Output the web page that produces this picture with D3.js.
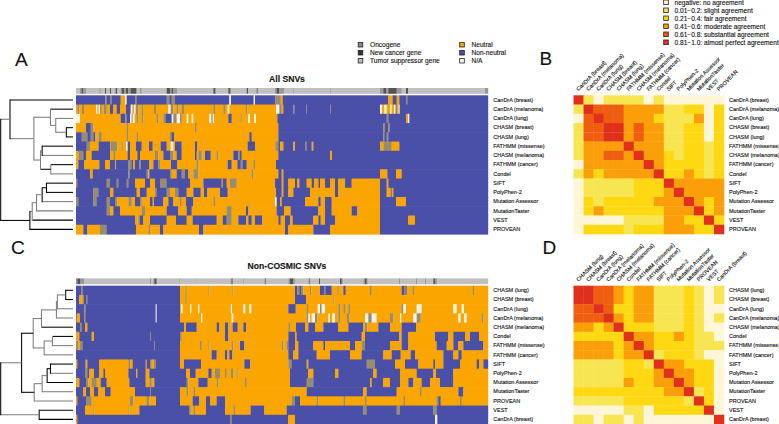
<!DOCTYPE html>
<html>
<head>
<meta charset="utf-8">
<script src="https://cdnjs.cloudflare.com/ajax/libs/d3/7.8.5/d3.min.js"></script>
<style>
body{margin:0;background:#fff}
text{font-family:"Liberation Sans",Arial,sans-serif;fill:#111;stroke:#111;stroke-width:.12px}
.domain{display:none}
</style>
</head>
<body>
<script>
// row order of each heatmap
var rowsA=["CanDrA (breast)","CanDrA (melanoma)","CanDrA (lung)","CHASM (breast)","CHASM (lung)","FATHMM (missense)","CHASM (melanoma)","FATHMM (cancer)","Condel","SIFT","PolyPhen-2","Mutation Assessor","MutationTaster","VEST","PROVEAN"];
var rowsC=["CHASM (lung)","CHASM (breast)","CanDrA (lung)","CanDrA (melanoma)","CHASM (melanoma)","Condel","FATHMM (missense)","FATHMM (cancer)","SIFT","PolyPhen-2","Mutation Assessor","MutationTaster","PROVEAN","VEST","CanDrA (breast)"];

// calls per row, as runs: letter = call, number = first column of the run
// b non-neutral, o neutral, w N/A, g mixed stripe
var callsA=[
"b228 g316 b320 g330 b335 o362 w375 b380 g405 b410 g500 b508 g515 b525 w688 b693 w761 b765 g826 o842 b848 o1165 b1178 o1190 b1198 g1218 b1222",
"o228 g232 o238 g246 o252 w288 o292 w296 g300 o305 g312 o320 b330 o340 b350 o360 b378 w392 o397 w402 g407 o415 g425 o430 g462 o468 w505 g512 o520 g530 o535 g545 o552 g640 o645 g670 o675 w683 o688 g737 o742 w828 g838 o845 b850 g880 b883 g918 b921 g990 b993 w1140 o1146 w1153 o1160 w1170 o1175 w1182 b1187 o1190 w1196 b1199",
"w228 o240 b362 g376 b380 w390 g395 w398 o404 g410 o415 g425 o430 g470 o475 g490 b497 b510 w515 g520 w530 g540 o545 w560 o565 w575 o580 w628 g634 w638 o642 b685 o695 g722 o725 w745 o750 w762 o768 b832 g1160 b1165 o1218 w1224 b1228",
"o228 b258 g272 o280 g380 o384 g585 o590 b835 g1150 b1155 g1165 b1170",
"b228 g245 b262 g272 b280 o286 g296 o305 g380 o384 g410 o414 g510 b515 o522 b748 o755 b835 g1150 b1153 g1160 b1165",
"b228 g260 o270 b296 o330 g332 o352 g365 o368 w378 b383 o390 b408 o425 b447 o458 b482 o500 w512 o520 b525 o545 b585 o592 b743 o765 g826 b835 o840 b850 o880 b885 g915 b920 o935 b940 o1140 g1150 o1175 b1198",
"o228 g235 b250 o258 b275 o330 g340 o345 b383 o390 b412 o420 g465 o475 b490 g510 o520 b530 o545 b585 o590 g595 o605 b615 o632 g650 o655 b700 g715 b720 o725 b835 o990 b996",
"o228 b235 o253 b298 o315 b330 o345 b348 g385 b395 o400 b405 g418 b423 o448 b460 g475 o480 b513 o532 g590 o595 b683 o695 b712 g722 b728 o740 g760 o765 b828",
"b228 o270 b278 g385 b390 g440 o445 b448 g510 o515 b530 g545 b555 o565 g580 o595 g755 o760 b835 o845 b850 o1140 b1162 o1188 b1205",
"g228 b232 g320 b330 g350 b355 g380 b385 o405 b435 o450 b465 g480 b500 o570 b610 o665 b668 o680 g690 o710 b825 o845 b850 o865 b885 o892 b898 o920 b935 o942 b955 o960 b975 o990 b1005 o1015 b1035 o1055 b1140 o1160 b1165",
"b228 g280 b295 o330 b340 o410 b420 o440 g465 b470 g500 o510 g525 b535 o560 b580 o602 b612 o622 b660 o683 b828 o845 b850 o865 b880 o930 b1005 o1015 b1140 o1160 b1172 o1175 b1180",
"g228 b235 g280 b290 g320 b330 g345 o352 g385 o395 b405 g420 o425 b450 o458 b462 o490 b505 o520 g540 o545 b558 o580 g640 o645 w825 b830 o840 b845 o915 b955 o962 b975 o995 b1140 o1188 b1218",
"b228 g320 o330 b340 o360 g425 o435 b500 o535 b560 o575 g680 o695 b738 o745 b830 o852 b872 o955 b975 o995 b1055 o1072 b1140",
"b228 o405 g415 b420 o430 b450 o500 b528 o560 b578 o650 b668 g680 o695 b715 o738 b745 o755 b765 o787 b835 o842 b855 o870 b878 o940 b955 o962 b975 o1005 b1140 o1225 b1245",
"o228 b250 o262 g300 b320 o408 g445 o450 b480 o490 b597 o610 b855 o865 b940 o990 b1140"
];
var callsC=[
"b228 g243 b248 o540 g556 o560 g625 o628 g697 o700 b885 g892 b898 g903 o910 g930 o934 b960 g972 b976 o995 g1012 o1016 b1030 o1037 g1110 o1115 b1205 g1212 b1216 o1220 g1238 o1242 g1418 o1422",
"b228 o238 g248 b252 g258 b262 o540 g556 o560 b885 o918 g1000 o1003",
"b228 g253 b257 w467 b470 o540 w543 o548 w570 o574 w594 o598 g690 w692 o696 w730 o736 w748 o754 b865 o887 g920 o924 w953 g960 w965 o975 g1015 o1020 g1030 o1035 g1045 o1050 g1205 w1210 o1218 w1250 o1265 w1360 o1370 w1385 o1392",
"b228 o230 b240 g252 b256 w467 b470 o540 w603 o607 w695 o700 g920 w925 o930 w935 g945 o952 w985 o990 w997 o1005 g1015 o1020 g1040 o1048 w1095 g1105 w1115 o1130 g1170 o1180 w1200 o1204 w1240 g1250 o1262 w1375 o1382 w1392 o1400 g1445 o1450",
"b228 g240 b245 o255 b262 o552 b558 o590 b650 o658 b675 o685 b698 o713 b730 o738 g865 o870 b888 o915 b925 o945 b970 o1015 b1045 o1090 g1095 o1102 b1135 o1170 b1205 o1248",
"o228 b238 o275 b282 g450 b453 g540 o545 b675 o685 b865 o885 b890 o1085 b1095 o1198 b1205 o1225 b1305 o1345 b1360 o1395 b1410 o1437",
"g228 o235 g240 b248 g462 b465 o540 g600 o605 g625 o628 g695 o700 b720 o733 g845 o850 g860 b865 o885 b895 o940 b970 o975 b1050 o1065 g1085 b1095 o1170 b1205 o1225 b1310 o1340 b1360 o1375 b1390 o1450",
"b228 o540 b635 o650 b675 o682 b688 o697 b865 o880 b895 o950 b990 o1050 b1085 o1150 b1175 o1202 b1232 o1245 b1330 o1360 b1375 o1385",
"o228 b232 g255 o258 b262 o298 g385 o390 b398 o437 b440 g450 o455 g462 b468 o540 b552 o603 b733 o750 g865 b875 o920 b925 g1100 b1125 o1185 b1215 o1255 b1300 o1305 b1330 o1380 b1430 o1437 b1450",
"b228 g255 b262 o268 b282 o298 b310 o315 b385 o408 b412 o437 b448 o558 b570 o587 b625 o635 g645 o660 g675 o680 g693 o700 g712 o715 b870 o925 b940 o1005 b1015 o1120 b1130 o1200 b1250 o1300 b1308 o1360",
"o228 b238 g258 o265 g275 o290 b302 o320 b388 o437 g448 o455 b463 g560 o565 b595 o623 g650 o655 g735 o740 b870 g920 b940 o1110 b1115 o1150 b1170 o1200 b1225 o1240 b1265 o1290 b1320 o1360",
"b228 o250 b258 o270 b282 o295 b315 o332 b405 g450 b453 o540 g560 o565 g580 o585 b920 o1090 b1100 o1190 g1260 o1265 b1375 o1390",
"o228 b232 g258 o275 g390 o400 g440 o448 b468 o540 b578 o598 b618 o630 b650 o675 g875 b885 o900 g950 o955 g1030 o1035 g1095 o1100 g1210 o1215 g1310 b1315 o1322 g1380 o1385",
"b228 o255 g280 o283 g385 o388 b418 g567 o572 g580 o585 b618 o675 g700 o705 b752 o793 b860 g1090 b1100 g1190 b1200 g1300 b1310",
"o228 b232 g690 b695 o865 b885 w1305 b1312"
];
// gene class strip above each heatmap: l tumor suppressor, m oncogene, d new cancer gene
var stripA="l228 m240 d245 m250 l258 m298 l302 d315 l318 d330 l333 m345 d348 l352 m362 d365 m372 d378 m385 d392 m408 l412 m420 l425 d500 m510 d515 m520 l532 d640 m645 l648 d685 m690 l693 d740 l744 d770 l773 m825 d830 m838 l852 m880 l882 m990 l992 m1140 d1150 m1158 d1165 m1190 l1205 d1218 l1224 m1455";
var stripC="m228 d232 m240 l252 m450 l453 m460 d463 l470 m538 l541 m590 l592 m692 d695 l698 m730 l733 m793 d796 l798 m865 d870 m880 l885 m925 d928 l930 d957 l960 d1020 m1025 l1028 m1090 d1095 m1100 l1103 m1197 l1200 m1248 l1252 m1275 l1278 d1300 m1305 l1312";

// cluster trees: [height, left, right, colours of left arm, stem, right arm]
var treeA=[218,[190,0,[118,[68,1,[52,2,[20,3,4,"kkk"],"ggg"],"kgg"],[98,[93,5,6,"kkg"],[67,7,8,"kgg"],"ggk"],"ggg"],"kkg"],[130,[123,[110,[93,[80,9,10,"kkk"],11,"kkg"],12,"ggg"],13,"ggk"],14,"gkk"],"gkk"];
var treeC=[218,[155,[120,[95,[50,[47,[22,0,1,"kkk"],2,"ggg"],3,"ggg"],4,"ggk"],[87,[62,5,6,"kgg"],7,"ggg"],"ggg"],[117,[93,[78,[68,8,9,"kkg"],10,"kkk"],11,"ggg"],12,"ggg"],"kkk"],[102,13,14,"kkk"],"gkg"];

// agreement class per method pair (0 negative ... 5 almost perfect)
var kappaB=[
[5,1,0,1,1,1,1,0,1,0,0,0,0,0,0],
[1,5,4,4,4,3,3,3,3,1,1,2,2,0,2],
[0,4,5,4,4,3,3,3,2,1,1,1,3,0,2],
[1,4,4,5,5,3,4,3,3,1,1,2,2,0,2],
[1,4,4,5,5,3,4,3,3,1,1,2,2,0,2],
[1,3,3,3,3,5,3,3,3,1,1,2,2,1,2],
[1,3,3,4,4,3,5,3,3,2,1,2,2,1,2],
[0,3,3,3,3,3,3,5,3,2,2,2,2,1,2],
[1,3,2,3,3,3,3,3,5,2,2,3,2,1,2],
[0,1,1,1,1,1,2,2,2,5,3,3,3,3,3],
[0,1,1,1,1,1,2,2,2,3,5,3,3,3,3],
[0,2,1,2,2,2,2,2,3,3,3,5,3,2,3],
[0,2,3,2,2,2,2,2,2,3,3,3,5,2,3],
[0,0,0,0,0,1,1,1,1,3,3,2,2,5,2],
[0,2,2,2,2,1,2,2,2,3,3,3,2,2,5]];
var kappaD=[
[5,5,4,4,3,2,3,3,1,1,1,2,1,0,1],
[5,5,4,4,3,2,3,3,1,1,1,2,1,0,1],
[4,4,5,4,2,2,3,3,1,1,1,2,1,0,0],
[4,4,4,5,3,2,3,3,1,1,1,2,1,0,1],
[3,3,2,3,5,2,2,2,1,1,1,2,1,0,0],
[2,2,2,2,2,5,3,3,2,2,3,2,1,1,0],
[3,3,3,3,2,3,5,3,2,2,2,2,1,1,1],
[3,3,3,3,2,3,3,5,1,2,2,2,1,0,0],
[1,1,1,1,1,2,2,1,5,3,3,2,2,2,0],
[1,1,1,1,1,2,2,2,3,5,3,3,2,2,0],
[1,1,1,1,1,3,2,2,3,3,5,3,2,2,0],
[2,2,2,2,2,2,2,2,2,3,3,5,1,2,0],
[1,1,1,1,1,2,2,2,2,2,2,1,5,2,0],
[0,0,0,0,0,1,1,0,2,2,2,2,2,5,0],
[1,1,0,1,1,0,1,0,0,0,0,0,0,0,5]];

var geneLegend=["Oncogene","New cancer gene","Tumor suppressor gene"];
var callLegend=["Neutral","Non-neutral","N/A"];
var kappaLegend=["negative: no agreement","0.01\u22120.2: slight agreement","0.21\u22120.4: fair agreement","0.41\u22120.6: moderate agreement","0.61\u22120.8: substantial agreement","0.81\u22121.0: almost perfect agreement"];

var callColor=d3.scaleOrdinal(["b","o","w","g","l","m","d"],["#4a4fa8","#fba600","#f4f1e6","#978b70","#c0c0c0","#999999","#555555"]);
var kappaColor=d3.scaleOrdinal(d3.range(6),["#fff6d8","#f8e552","#ffd814","#fa9f0a","#ee5d10","#e0301c"]);

var svg=d3.select("body").append("svg").attr("width",779).attr("height",424).style("display","block");

var x=d3.scaleLinear().domain([228,1464]).range([76,488]);
var treeX=d3.scaleLinear().domain([0,218]).range([73,0.7]);

function runs(s){
  var t=s.split(" ").map(function(k){return {c:k[0],from:+k.slice(1)};});
  t.forEach(function(d,i){d.to=i<t.length-1?t[i+1].from:x.domain()[1];});
  return t;
}

function drawHeat(calls,rows,strip,top,bottom){
  var y=d3.scaleBand().domain(rows).range([top,bottom]);
  svg.append("g").selectAll("rect").data(runs(strip)).enter().append("rect")
     .attr("x",function(d){return x(d.from);})
     .attr("width",function(d){return x(d.to)-x(d.from)+0.2;})
     .attr("y",top-7.3).attr("height",5.8)
     .attr("fill",function(d){return callColor(d.c);});
  var g=svg.append("g").selectAll("g").data(calls).enter().append("g")
     .attr("transform",function(d,i){return "translate(0,"+y(rows[i])+")";});
  g.selectAll("rect").data(function(d){return runs(d);}).enter().append("rect")
     .attr("x",function(d){return x(d.from);})
     .attr("width",function(d){return x(d.to)-x(d.from)+0.2;})
     .attr("height",function(d,i,n){return y.bandwidth()+(y.bandwidth()*14.5<bottom-top?0.6:0);})
     .attr("fill",function(d){return callColor(d.c);});
  svg.append("g").attr("transform","translate(488,0)")
     .call(d3.axisRight(y).tickSize(0).tickPadding(5.3))
     .selectAll("text").style("font-size","5.5px");
  return y;
}

function drawTree(tree,rows,y){
  var g=svg.append("g").attr("fill","none").attr("stroke-width",1.05);
  function col(c){return c=="g"?"#7d7d7d":"#000";}
  function walk(n){
    if(typeof n=="number") return {h:0,yy:y(rows[n])+y.bandwidth()/2};
    var a=walk(n[1]),b=walk(n[2]);
    g.append("path").attr("stroke",col(n[3][0])).attr("d","M"+treeX(n[0])+","+a.yy+"H"+treeX(a.h));
    g.append("path").attr("stroke",col(n[3][2])).attr("d","M"+treeX(n[0])+","+b.yy+"H"+treeX(b.h));
    g.append("path").attr("stroke",col(n[3][1])).attr("d","M"+treeX(n[0])+","+(a.yy-0.5)+"V"+(b.yy+0.5));
    return {h:n[0],yy:(a.yy+b.yy)/2};
  }
  walk(tree);
}

function drawMatrix(kappa,rows,top,bottom){
  var cx=d3.scaleBand().domain(rows).range([573.5,724]);
  var cy=d3.scaleBand().domain(rows).range([top,bottom]);
  var g=svg.append("g").selectAll("g").data(kappa).enter().append("g");
  g.selectAll("rect").data(function(d,i){return d.map(function(v,j){return {v:v,r:rows[i],c:rows[j]};});})
   .enter().append("rect")
   .attr("x",function(d){return cx(d.c);})
   .attr("y",function(d){return cy(d.r);})
   .attr("width",cx.bandwidth()+0.3).attr("height",cy.bandwidth()+0.3)
   .attr("fill",function(d){return kappaColor(d.v);});
  svg.append("g").attr("transform","translate(724,0)")
     .call(d3.axisRight(cy).tickSize(0).tickPadding(5))
     .selectAll("text").style("font-size","5.5px");
  svg.append("g").attr("transform","translate(0,"+(top-4)+")")
     .call(d3.axisTop(cx).tickSize(0).tickPadding(0))
     .selectAll("text").style("font-size","5.5px")
     .attr("text-anchor","start").attr("dx",0).attr("dy",0).attr("y",0)
     .attr("transform","rotate(-45)");
}

var yA=drawHeat(callsA,rowsA,stripA,95.3,234);
var yC=drawHeat(callsC,rowsC,stripC,285.7,424);
drawTree(treeA,rowsA,yA);
drawTree(treeC,rowsC,yC);
drawMatrix(kappaB,rowsA,95.3,234);
drawMatrix(kappaD,rowsC,285.7,424);

// titles and panel letters
svg.append("text").attr("x",287).attr("y",81.5).attr("text-anchor","middle").style("font-size","8.6px").style("font-weight","bold").text("All SNVs");
svg.append("text").attr("x",287).attr("y",269).attr("text-anchor","middle").style("font-size","8.6px").style("font-weight","bold").text("Non-COSMIC SNVs");
var letters=[["A",15,66],["B",539.5,65],["C",11,254],["D",542.5,254]];
svg.selectAll("text.letter").data(letters).enter().append("text").attr("class","letter")
   .attr("x",function(d){return d[1];}).attr("y",function(d){return d[2];})
   .style("font-size","19px").text(function(d){return d[0];});

function legend(labels,fills,lx,ly,step,size){
  var g=svg.append("g").selectAll("g").data(labels).enter().append("g")
     .attr("transform",function(d,i){return "translate("+lx+","+(ly+i*step)+")";});
  g.append("rect").attr("x",-2.3).attr("y",-2.3).attr("width",4.6).attr("height",4.6)
   .attr("fill",function(d,i){return fills[i];}).attr("stroke","#222").attr("stroke-width",0.8);
  g.append("text").attr("x",lx>600?8.5:9.5).attr("y",2.3).style("font-size",size).text(function(d){return d;});
}
legend(geneLegend,["#8a8a8a","#333","#bdbdbd"],360.5,44.7,8,"6.6px");
legend(callLegend,["#fba600","#4a4fa8","#f8f8f8"],462,44.7,8,"6.6px");
legend(kappaLegend,d3.range(6).map(function(i){return kappaColor(i);}),666,2.3,8,"6.6px");
</script>
</body>
</html>
